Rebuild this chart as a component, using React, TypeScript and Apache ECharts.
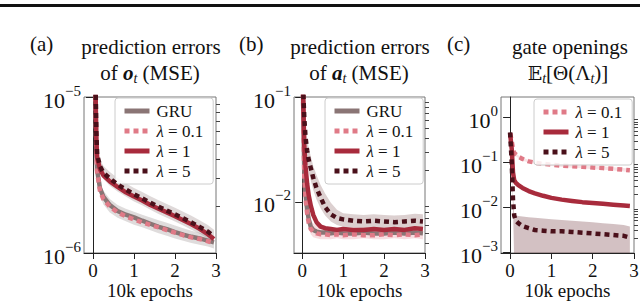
import React, { useEffect, useRef } from 'react';
import * as echarts from 'echarts';

const FONT = 'Liberation Serif';

const C_GRU = '#8a7575';
const C_L01 = '#e07a87';
const C_L1 = '#a82b3c';
const C_L5 = '#4a101a';

const xTicks = [0, 1, 2, 3];

// panel (a)
const xA = [0.05, 0.08, 0.1, 0.17, 0.25, 0.41, 0.6, 0.8, 1.0, 1.2, 1.4, 1.6, 1.8, 2.0, 2.2, 2.4, 2.6, 2.8, 2.95];
const gruA = [1.5e-5, 4.6e-6, 3.4e-6, 2.6e-6, 2.3e-6, 2.03e-6, 1.86e-6, 1.76e-6, 1.69e-6, 1.61e-6, 1.54e-6, 1.47e-6, 1.42e-6, 1.36e-6, 1.31e-6, 1.27e-6, 1.24e-6, 1.2e-6, 1.17e-6];
const l01A = [1.5e-5, 4.4e-6, 3.3e-6, 2.5e-6, 2.22e-6, 1.98e-6, 1.82e-6, 1.72e-6, 1.64e-6, 1.57e-6, 1.51e-6, 1.46e-6, 1.4e-6, 1.35e-6, 1.3e-6, 1.26e-6, 1.23e-6, 1.19e-6, 1.16e-6];
const l1A = [1.8e-5, 5.5e-6, 4.1e-6, 3.45e-6, 3.15e-6, 2.88e-6, 2.65e-6, 2.45e-6, 2.3e-6, 2.17e-6, 2.03e-6, 1.92e-6, 1.82e-6, 1.72e-6, 1.62e-6, 1.53e-6, 1.43e-6, 1.32e-6, 1.23e-6];
const l5A = [2e-5, 6e-6, 4.3e-6, 3.6e-6, 3.28e-6, 3.0e-6, 2.75e-6, 2.55e-6, 2.38e-6, 2.24e-6, 2.1e-6, 1.98e-6, 1.87e-6, 1.77e-6, 1.67e-6, 1.57e-6, 1.47e-6, 1.37e-6, 1.28e-6];
const gruAHi = [1.7e-5, 5.1e-6, 3.75e-6, 2.85e-6, 2.52e-6, 2.22e-6, 2.03e-6, 1.92e-6, 1.84e-6, 1.76e-6, 1.69e-6, 1.62e-6, 1.56e-6, 1.5e-6, 1.44e-6, 1.39e-6, 1.35e-6, 1.31e-6, 1.27e-6];
const gruALo = [1.3e-5, 4.1e-6, 3.05e-6, 2.35e-6, 2.05e-6, 1.82e-6, 1.68e-6, 1.6e-6, 1.52e-6, 1.46e-6, 1.4e-6, 1.34e-6, 1.29e-6, 1.24e-6, 1.2e-6, 1.16e-6, 1.13e-6, 1.1e-6, 1.07e-6];
const l5AHi = [2.2e-5, 6.6e-6, 4.75e-6, 4.0e-6, 3.62e-6, 3.3e-6, 3.02e-6, 2.8e-6, 2.61e-6, 2.46e-6, 2.31e-6, 2.18e-6, 2.06e-6, 1.95e-6, 1.84e-6, 1.73e-6, 1.62e-6, 1.51e-6, 1.41e-6];
const l5ALo = [1.8e-5, 5.4e-6, 3.9e-6, 3.3e-6, 2.98e-6, 2.7e-6, 2.48e-6, 2.3e-6, 2.14e-6, 2.02e-6, 1.89e-6, 1.78e-6, 1.68e-6, 1.59e-6, 1.5e-6, 1.41e-6, 1.33e-6, 1.24e-6, 1.16e-6];

// panel (b)
const xB = [0.02, 0.05, 0.08, 0.12, 0.16, 0.21, 0.27, 0.35, 0.45, 0.56, 0.7, 0.85, 1.0, 1.25, 1.5, 1.75, 2.0, 2.25, 2.5, 2.75, 2.95];
const gruB = [0.11, 0.02, 0.012, 0.0085, 0.0068, 0.0058, 0.0054, 0.0052, 0.0051, 0.0051, 0.005, 0.0051, 0.005, 0.005, 0.0051, 0.005, 0.005, 0.0051, 0.005, 0.0051, 0.005];
const l01B = [0.11, 0.018, 0.011, 0.0078, 0.0063, 0.0055, 0.0052, 0.005, 0.0049, 0.0049, 0.0048, 0.0049, 0.0048, 0.0049, 0.0048, 0.0048, 0.0049, 0.0048, 0.0049, 0.0048, 0.0049];
const l1B = [0.12, 0.035, 0.022, 0.015, 0.0115, 0.0092, 0.0075, 0.0064, 0.0058, 0.0056, 0.0055, 0.0054, 0.0055, 0.0054, 0.0054, 0.0055, 0.0054, 0.0055, 0.0054, 0.0056, 0.0055];
const l5B = [0.13, 0.065, 0.042, 0.031, 0.025, 0.021, 0.017, 0.0135, 0.011, 0.0089, 0.0076, 0.007, 0.0068, 0.0066, 0.0065, 0.0066, 0.0065, 0.0064, 0.0065, 0.0066, 0.0065];
const l5BHi = [0.15, 0.085, 0.055, 0.04, 0.033, 0.027, 0.022, 0.018, 0.0145, 0.012, 0.0098, 0.0084, 0.0078, 0.0076, 0.0075, 0.0076, 0.0075, 0.0074, 0.0075, 0.0077, 0.0076];
const l5BLo = [0.11, 0.05, 0.032, 0.024, 0.019, 0.016, 0.013, 0.0105, 0.0087, 0.0074, 0.0065, 0.006, 0.0058, 0.0057, 0.0056, 0.0057, 0.0056, 0.0055, 0.0056, 0.0057, 0.0056];
const gruBHi = [0.13, 0.025, 0.015, 0.0105, 0.0082, 0.0068, 0.0062, 0.0059, 0.0057, 0.0057, 0.0056, 0.0057, 0.0056, 0.0056, 0.0057, 0.0056, 0.0056, 0.0057, 0.0056, 0.0057, 0.0056];
const gruBLo = [0.09, 0.015, 0.0095, 0.0068, 0.0056, 0.0049, 0.0046, 0.0045, 0.0044, 0.0044, 0.0044, 0.0045, 0.0044, 0.0044, 0.0045, 0.0044, 0.0044, 0.0045, 0.0044, 0.0045, 0.0044];

// panel (c)
const xC = [0, 0.04, 0.07, 0.1, 0.14, 0.2, 0.3, 0.45, 0.6, 0.8, 1.0, 1.25, 1.5, 1.75, 2.0, 2.25, 2.5, 2.75, 2.9];
const l01C = [0.45, 0.3, 0.2, 0.165, 0.15, 0.135, 0.12, 0.106, 0.099, 0.093, 0.089, 0.085, 0.082, 0.08, 0.077, 0.075, 0.072, 0.069, 0.067];
const l1C = [0.45, 0.2, 0.06, 0.04, 0.035, 0.031, 0.027, 0.023, 0.0205, 0.018, 0.0162, 0.0148, 0.0138, 0.013, 0.0124, 0.0119, 0.0114, 0.011, 0.0107];
const l5C = [0.47, 0.1, 0.015, 0.0065, 0.005, 0.0044, 0.0038, 0.0034, 0.0031, 0.003, 0.0029, 0.0029, 0.0028, 0.0027, 0.0026, 0.0025, 0.0024, 0.0023, 0.0021];
const l01CHi = [0.48, 0.32, 0.22, 0.18, 0.162, 0.145, 0.129, 0.114, 0.106, 0.1, 0.095, 0.091, 0.088, 0.086, 0.083, 0.081, 0.078, 0.075, 0.073];
const l01CLo = [0.42, 0.28, 0.18, 0.15, 0.138, 0.125, 0.111, 0.098, 0.092, 0.086, 0.083, 0.079, 0.076, 0.074, 0.071, 0.069, 0.066, 0.063, 0.061];
const l1CHi = [0.48, 0.22, 0.066, 0.044, 0.038, 0.034, 0.029, 0.025, 0.022, 0.0195, 0.0175, 0.016, 0.0149, 0.014, 0.0134, 0.0128, 0.0123, 0.0119, 0.0116];
const l1CLo = [0.42, 0.18, 0.054, 0.036, 0.032, 0.028, 0.025, 0.021, 0.019, 0.0166, 0.015, 0.0137, 0.0128, 0.012, 0.0115, 0.011, 0.0106, 0.0102, 0.0099];
const l5CHi = [0.5, 0.12, 0.02, 0.0068, 0.0066, 0.0064, 0.0062, 0.006, 0.0058, 0.0056, 0.0054, 0.0052, 0.005, 0.0048, 0.0046, 0.0044, 0.0042, 0.004, 0.0037];
const l5CLo = [0.44, 0.08, 0.011, 0.0006, 0.0006, 0.0006, 0.0006, 0.0006, 0.0006, 0.0006, 0.0006, 0.0006, 0.0006, 0.0006, 0.0006, 0.0006, 0.0006, 0.0006, 0.0006];

// axis ranges and ticks
const yRangeA = [1e-6, 1e-5];
const yRangeB = [0.00325, 0.1];
const yRangeC = [0.00095, 2.9];
const yMajorA = [1e-6, 1e-5];
const yMinorA = [2e-6, 3e-6, 4e-6, 5e-6, 6e-6, 7e-6, 8e-6, 9e-6];
const yMajorB = [0.01, 0.1];
const yMinorB = [0.004, 0.005, 0.006, 0.007, 0.008, 0.009, 0.02, 0.03, 0.04, 0.05, 0.06, 0.07, 0.08, 0.09];
const yMajorC = [0.001, 0.01, 0.1, 1];
const yMinorC = [0.002, 0.003, 0.004, 0.005, 0.006, 0.007, 0.008, 0.009, 0.02, 0.03, 0.04, 0.05, 0.06, 0.07, 0.08, 0.09, 0.2, 0.3, 0.4, 0.5, 0.6, 0.7, 0.8, 0.9];

const NAME_GRU = 'GRU';
const NAME_L01 = 'λ = 0.1';
const NAME_L1 = 'λ = 1';
const NAME_L5 = 'λ = 5';

function pairs(xs: number[], ys: number[]) {
  return xs.map((x, i) => [x, ys[i]]);
}

function yLabel(v: number) {
  const e = Math.round(Math.log10(v));
  return `{b|10}{s|${e < 0 ? '−' : ''}${Math.abs(e)}}`;
}

const dotted = [5, 4];

function lineSeries(name: string, xs: number[], ys: number[], color: string, dashed: boolean, idx: number, z: number) {
  return {
    type: 'line',
    name,
    xAxisIndex: idx,
    yAxisIndex: idx * 2,
    data: pairs(xs, ys),
    symbol: 'none',
    showSymbol: false,
    clip: true,
    z,
    lineStyle: { color, width: 4.5, type: dashed ? dotted : 'solid', cap: 'butt', join: 'round' },
    itemStyle: { color },
  };
}

function bandSeries(xs: number[], lo: number[], hi: number[], fill: string, idx: number) {
  return {
    type: 'custom',
    name: 'band',
    xAxisIndex: idx,
    yAxisIndex: idx * 2,
    clip: true,
    z: 1,
    silent: true,
    data: xs.map((x, i) => [x, lo[i], hi[i]]),
    encode: { x: 0, y: [1, 2] },
    renderItem: (params: any, api: any) => {
      if (params.dataIndex !== 0) return null;
      const pts: number[][] = [];
      for (let i = 0; i < xs.length; i++) pts.push(api.coord([xs[i], hi[i]]));
      for (let i = xs.length - 1; i >= 0; i--) pts.push(api.coord([xs[i], lo[i]]));
      return { type: 'polygon', shape: { points: pts }, style: { fill } };
    },
  };
}

const grids = [
  { left: 84, top: 97, width: 132, height: 156 },
  { left: 294, top: 97, width: 131, height: 156 },
  { left: 501, top: 97, width: 133, height: 156 },
];
const xMins = [-0.22, -0.2, -0.22];
const yRanges = [yRangeA, yRangeB, yRangeC];
const yMajors = [yMajorA, yMajorB, yMajorC];
const yMinors = [yMinorA, yMinorB, yMinorC];

function legendFmt(name: string) {
  if (name.startsWith('λ')) return `{i|λ}{n|${name.slice(1)}}`;
  return `{n|${name}}`;
}

function makeLegend(left: number, top: number, names: string[]) {
  return {
    left,
    top,
    orient: 'vertical',
    data: names,
    itemWidth: 25,
    itemHeight: 14,
    itemGap: 0,
    padding: [3, 10, 3, 7],
    selectedMode: false,
    backgroundColor: 'rgba(255,255,255,0.85)',
    borderColor: '#cccccc',
    borderWidth: 1,
    borderRadius: 3,
    lineStyle: { width: 5 },
    itemStyle: { opacity: 0, borderWidth: 0 },
    formatter: legendFmt,
    textStyle: {
      fontFamily: FONT,
      fontSize: 17,
      lineHeight: 20,
      color: '#111',
      padding: [0, 0, 0, 2],
      rich: {
        i: { fontFamily: FONT, fontSize: 17, lineHeight: 20, fontStyle: 'italic', color: '#111' },
        n: { fontFamily: FONT, fontSize: 17, lineHeight: 20, color: '#111' },
      },
    },
  };
}

function titleText(x: number, y: number, text: string, rich?: any, align = 'center') {
  return {
    type: 'text',
    x,
    y,
    style: {
      text,
      fontFamily: FONT,
      fontSize: 21,
      fill: '#111',
      align,
      verticalAlign: 'middle',
      rich,
    },
  };
}

const subRich = {
  bi: { fontFamily: FONT, fontSize: 21, fontWeight: 'bold', fontStyle: 'italic', fill: '#111' },
  sub: { fontFamily: FONT, fontSize: 14, fontStyle: 'italic', fill: '#111', padding: [10, 0, 0, 0] },
  n: { fontFamily: FONT, fontSize: 21, fill: '#111' },
  bb: { fontFamily: 'DejaVu Serif', fontSize: 19, fill: '#111' },
};

export default function App() {
  const ref = useRef<HTMLDivElement>(null);
  useEffect(() => {
    if (!ref.current) return;
    const chart = echarts.init(ref.current, null, { renderer: 'svg' });

    const xAxis = grids.map((_, i) => ({
      type: 'value',
      gridIndex: i,
      min: xMins[i],
      max: 3,
      axisLine: { show: true, onZero: false, lineStyle: { color: '#222', width: 1 } },
      axisTick: { show: true, customValues: xTicks, length: 6, lineStyle: { color: '#222' } },
      axisLabel: {
        customValues: xTicks,
        fontFamily: FONT,
        fontSize: 19,
        lineHeight: 17,
        color: '#111',
        margin: 9,
      },
      splitLine: { show: false },
      name: '10k epochs',
      nameLocation: 'middle',
      nameGap: 29,
      nameMoveOverlap: false,
      nameTextStyle: { fontFamily: FONT, fontSize: 19, lineHeight: 16, color: '#111', verticalAlign: 'top' },
    }));

    const yAxis: any[] = [];
    grids.forEach((_, i) => {
      yAxis.push({
        type: 'log',
        gridIndex: i,
        min: yRanges[i][0],
        max: yRanges[i][1],
        axisLine: { show: true, lineStyle: { color: '#222', width: 1 } },
        axisTick: { show: true, customValues: yMajors[i], length: 7, lineStyle: { color: '#222' } },
        axisLabel: {
          customValues: yMajors[i],
          formatter: yLabel,
          fontFamily: FONT,
          margin: 3,
          rich: {
            b: { fontFamily: FONT, fontSize: 22, lineHeight: 28, verticalAlign: 'bottom', color: '#111' },
            s: { fontFamily: FONT, fontSize: 15, lineHeight: 28, verticalAlign: 'top', color: '#111' },
          },
        },
        splitLine: { show: false },
      });
      yAxis.push({
        type: 'log',
        gridIndex: i,
        min: yRanges[i][0],
        max: yRanges[i][1],
        axisLine: { show: false },
        axisTick: { show: true, customValues: yMinors[i], length: 4, lineStyle: { color: '#444' } },
        axisLabel: { show: false },
        splitLine: { show: false },
      });
    });

    const series: any[] = [
      bandSeries(xA, gruALo, gruAHi, 'rgba(150,140,140,0.3)', 0),
      bandSeries(xA, l5ALo, l5AHi, 'rgba(150,130,130,0.3)', 0),
      lineSeries(NAME_GRU, xA, gruA, C_GRU, false, 0, 2),
      lineSeries(NAME_L01, xA, l01A, C_L01, true, 0, 3),
      lineSeries(NAME_L1, xA, l1A, C_L1, false, 0, 4),
      lineSeries(NAME_L5, xA, l5A, C_L5, true, 0, 5),

      bandSeries(xB, gruBLo, gruBHi, 'rgba(224,122,135,0.25)', 1),
      bandSeries(xB, l5BLo, l5BHi, 'rgba(140,100,100,0.3)', 1),
      lineSeries(NAME_GRU, xB, gruB, C_GRU, false, 1, 2),
      lineSeries(NAME_L01, xB, l01B, C_L01, true, 1, 3),
      lineSeries(NAME_L1, xB, l1B, C_L1, false, 1, 4),
      lineSeries(NAME_L5, xB, l5B, C_L5, true, 1, 5),

      bandSeries(xC, l01CLo, l01CHi, 'rgba(224,122,135,0.2)', 2),
      bandSeries(xC, l1CLo, l1CHi, 'rgba(168,43,60,0.2)', 2),
      bandSeries(xC, l5CLo, l5CHi, 'rgba(110,50,55,0.3)', 2),
      lineSeries(NAME_L01, xC, l01C, C_L01, true, 2, 3),
      lineSeries(NAME_L1, xC, l1C, C_L1, false, 2, 4),
      lineSeries(NAME_L5, xC, l5C, C_L5, true, 2, 5),
    ];

    const graphic: any[] = [
      { type: 'rect', shape: { x: 0, y: 4, width: 640, height: 3 }, style: { fill: '#111' } },
      titleText(30, 44, '(a)', undefined, 'left'),
      titleText(151, 47, 'prediction errors'),
      titleText(150, 73, '{n|of }{bi|o}{sub|t}{n| (MSE)}', subRich),
      titleText(239, 44, '(b)', undefined, 'left'),
      titleText(360, 47, 'prediction errors'),
      titleText(359, 73, '{n|of }{bi|a}{sub|t}{n| (MSE)}', subRich),
      titleText(447, 44, '(c)', undefined, 'left'),
      titleText(570, 47, 'gate openings'),
      titleText(568, 73, '{bb|𝔼}{sub|t}{n|[Θ(Λ}{sub|t}{n|)]}', subRich),
    ];

    chart.setOption({
      animation: false,
      backgroundColor: '#ffffff',
      textStyle: { fontFamily: FONT },
      grid: grids.map((g) => ({
        ...g,
        show: true,
        borderColor: '#777',
        borderWidth: 1,
        backgroundColor: 'transparent',
        containLabel: false,
        outerBoundsMode: 'none',
      })),
      xAxis,
      yAxis,
      legend: [
        makeLegend(115, 98, [NAME_GRU, NAME_L01, NAME_L1, NAME_L5]),
        makeLegend(325, 98, [NAME_GRU, NAME_L01, NAME_L1, NAME_L5]),
        makeLegend(534, 99, [NAME_L01, NAME_L1, NAME_L5]),
      ],
      series,
      graphic,
    });
    return () => chart.dispose();
  }, []);
  return <div ref={ref} style={{ position: 'fixed', left: 0, top: 0, width: 640, height: 301 }} />;
}
